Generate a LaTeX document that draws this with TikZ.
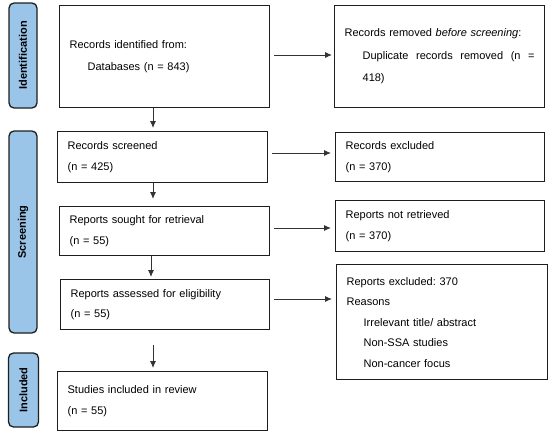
\documentclass[tikz,border=0pt]{standalone}
\usepackage{fontspec}
\setmainfont{Liberation Sans}
\usetikzlibrary{arrows.meta,calc}
\definecolor{phaseblue}{RGB}{155,197,232}
\definecolor{edgecol}{RGB}{30,30,30}
\frenchspacing
\begin{document}
\begin{tikzpicture}[x=1pt,y=-1pt,
  box/.style={draw=edgecol, line width=1.3pt, inner xsep=10pt, inner ysep=0pt,
    anchor=north west, align=left, font=\fontsize{11}{20.5}\selectfont},
  phase/.style={draw=edgecol, line width=1.3pt, fill=phaseblue, rounded corners=5pt,
    rotate=90, inner sep=0pt, font=\fontsize{11}{13}\selectfont\bfseries},
  arr/.style={draw=black!80, line width=0.9pt, -{Latex[length=7pt,width=6pt]}}]
\useasboundingbox (0,0) rectangle (550,434);

% phase labels
\node[phase, minimum width=105pt, minimum height=28pt] (pid) at (23,55.5) {Identification};
\node[phase, minimum width=202pt, minimum height=28pt] (psc) at (23,232) {Screening};
\node[phase, minimum width=74pt, minimum height=30pt] (pin) at (23.5,390) {Included};

% boxes
\node[box, text width=190pt, minimum height=102pt, font=\fontsize{11}{22}\selectfont] (ident) at (59,5)
  {Records identified from:\\ \hspace*{18pt}Databases (n = 843)};
\node[box, text width=190pt, minimum height=102pt, font=\fontsize{11}{22.5}\selectfont] (removed) at (334,5)
  {Records removed \textit{before screening}:\\
   \hspace*{18pt}\makebox[172pt][l]{Duplicate\hfill records\hfill removed\hfill (n\hfill =}\\
   \hspace*{18pt}418)};
\node[box, text width=190pt, minimum height=51pt] (screen) at (57,131)
  {Records screened\\ (n = 425)};
\node[box, text width=189pt, minimum height=49pt] (excl) at (335,132)
  {Records excluded\\ (n = 370)};
\node[box, text width=190pt, minimum height=49pt] (sought) at (59,206)
  {Reports sought for retrieval\\ (n = 55)};
\node[box, text width=189pt, minimum height=51pt] (notret) at (335,200)
  {Reports not retrieved\\ (n = 370)};
\node[box, text width=189pt, minimum height=50pt] (assess) at (60,279)
  {Reports assessed for eligibility\\ (n = 55)};
\node[box, text width=191pt, minimum height=115pt] (rexcl) at (336,264)
  {Reports excluded: 370\\ Reasons\\
   \hspace*{17pt}Irrelevant title/ abstract\\
   \hspace*{17pt}Non-SSA studies\\
   \hspace*{17pt}Non-cancer focus};
\node[box, text width=190pt, minimum height=59pt] (studies) at (57,371)
  {Studies included in review\\ (n = 55)};

% helper coordinates
\coordinate (va) at (153,0);
\coordinate (vb) at (151,0);
\coordinate (h1) at (0,55);
\coordinate (h2) at (0,153);
\coordinate (h3) at (0,228);
\coordinate (h4) at (0,299);

% vertical arrows
\draw[arr, shorten >=3pt] (ident.south -| va) -- (screen.north -| va);
\draw[arr, shorten >=7pt] (screen.south -| va) -- (sought.north -| va);
\draw[arr, shorten >=2pt] (sought.south -| vb) -- (assess.north -| vb);
\draw[arr, shorten <=15pt, shorten >=3pt] (assess.south -| va) -- (studies.north -| va);

% horizontal arrows
\draw[arr, shorten <=4pt, shorten >=2pt] (ident.east |- h1) -- (removed.west |- h1);
\draw[arr, shorten <=4pt, shorten >=4pt] (screen.east |- h2) -- (excl.west |- h2);
\draw[arr, shorten <=4pt, shorten >=4pt] (sought.east |- h3) -- (notret.west |- h3);
\draw[arr, shorten <=4pt, shorten >=4pt] (assess.east |- h4) -- (rexcl.west |- h4);
\end{tikzpicture}
\end{document}
